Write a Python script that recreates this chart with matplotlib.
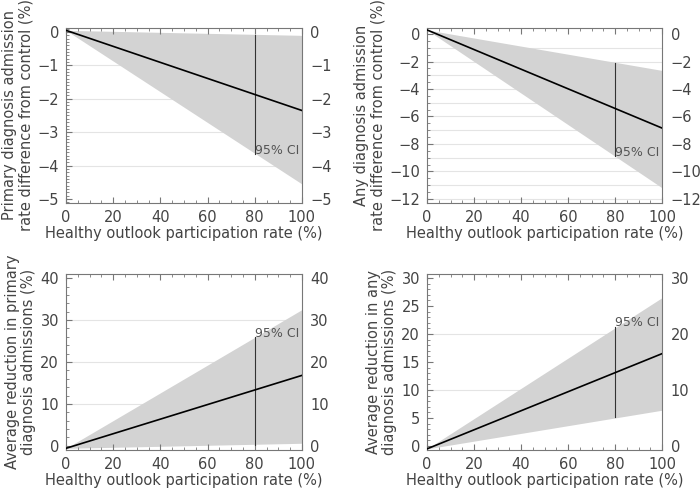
import matplotlib
matplotlib.use("Agg")
import matplotlib.pyplot as plt
from matplotlib.ticker import MultipleLocator

# participation rate (%)
x = [0, 100]

# panel A: primary diagnosis admission rate difference (%)
a_mean = [0.05, -2.35]
a_upper = [0.05, -0.1]
a_lower = [0.05, -4.55]
a_ci80 = [-0.08, -3.66]

# panel B: any diagnosis admission rate difference (%)
b_mean = [0.3, -6.85]
b_upper = [0.3, -2.65]
b_lower = [0.3, -11.2]
b_ci80 = [-2.1, -8.9]

# panel C: average reduction in primary diagnosis admissions (%)
c_mean = [-0.6, 16.8]
c_upper = [-0.6, 32.5]
c_lower = [-0.6, 0.6]
c_ci80 = [0.3, 26.0]

# panel D: average reduction in any diagnosis admissions (%)
d_mean = [-0.5, 16.5]
d_upper = [-0.5, 26.5]
d_lower = [-0.5, 6.4]
d_ci80 = [5.2, 21.2]

panels = [
    dict(pos=[0.0943, 0.5874, 0.337, 0.3557], mean=a_mean, up=a_upper, lo=a_lower, ci=a_ci80,
         ylim=(-5.12, 0.12), major=1, minor=0.1, right_major=1, grid=[-1, -2, -3, -4],
         text_y=a_ci80[1] + 0.1, ylabel="Primary diagnosis admission\nrate difference from control (%)"),
    dict(pos=[0.61, 0.5874, 0.336, 0.3557], mean=b_mean, up=b_upper, lo=b_lower, ci=b_ci80,
         ylim=(-12.3, 0.44), major=2, minor=0.5, right_major=2,
         grid=[-1, -2, -3, -4, -5, -6, -7, -8, -9, -10, -11, -12],
         text_y=b_ci80[1] + 0.25, ylabel="Any diagnosis admission\nrate difference from control (%)"),
    dict(pos=[0.0943, 0.0854, 0.337, 0.3577], mean=c_mean, up=c_upper, lo=c_lower, ci=c_ci80,
         ylim=(-1.0, 41.0), major=10, minor=2, right_major=10, grid=[10, 20, 30],
         text_y=c_ci80[1] + 0.9, ylabel="Average reduction in primary\ndiagnosis admissions (%)"),
    dict(pos=[0.61, 0.0854, 0.336, 0.3577], mean=d_mean, up=d_upper, lo=d_lower, ci=d_ci80,
         ylim=(-0.7, 30.7), major=5, minor=1, right_major=10, grid=[10, 20],
         text_y=d_ci80[1] + 0.8, ylabel="Average reduction in any\ndiagnosis admissions (%)"),
]

txt = "#444444"
spine = "#777777"

fig = plt.figure(figsize=(7, 4.92), dpi=100)

for p in panels:
    ax = fig.add_axes(p["pos"])
    for g in p["grid"]:
        ax.axhline(g, color="#e4e4e4", lw=0.8, zorder=0)
    ax.fill_between(x, p["lo"], p["up"], color="#d3d3d3", lw=0, zorder=1)
    ax.plot(x, p["mean"], color="black", lw=1.2, zorder=3)
    ax.plot([80, 80], p["ci"], color="#333333", lw=0.8, zorder=2)
    ax.text(80, p["text_y"], "95% CI", color="#555555", fontsize=9,
            ha="left", va="center", zorder=4)

    ax.set_xlim(0, 100)
    ax.set_ylim(*p["ylim"])
    ax.xaxis.set_major_locator(MultipleLocator(20))
    ax.xaxis.set_minor_locator(MultipleLocator(5))
    ax.yaxis.set_major_locator(MultipleLocator(p["major"]))
    ax.yaxis.set_minor_locator(MultipleLocator(p["minor"]))
    ax.tick_params(which="both", direction="in", colors=spine, labelcolor=txt,
                   labelsize=10.5, top=True, right=False, pad=5)
    ax.tick_params(which="major", length=4)
    ax.tick_params(which="minor", length=2)
    ax.set_xticklabels([f"{int(v)}" for v in ax.get_xticks()])
    ax.yaxis.set_major_formatter(plt.FuncFormatter(lambda v, _: f"{v:g}".replace("-", "\u2212")))
    for s in ax.spines.values():
        s.set_color(spine)
        s.set_linewidth(0.8)
    ax.set_xlabel("Healthy outlook participation rate (%)", color=txt, fontsize=10.5, labelpad=1)
    ax.set_ylabel(p["ylabel"], color=txt, fontsize=10.5, labelpad=3, linespacing=1.1)

    rx = ax.twinx()
    rx.set_ylim(*p["ylim"])
    rx.yaxis.set_major_locator(MultipleLocator(p["right_major"]))
    rx.yaxis.set_major_formatter(plt.FuncFormatter(lambda v, _: f"{v:g}".replace("-", "\u2212")))
    rx.tick_params(direction="in", colors=spine, labelcolor=txt, labelsize=10.5, length=0, pad=6)
    for s in rx.spines.values():
        s.set_visible(False)

fig.savefig("out.png", dpi=100)
